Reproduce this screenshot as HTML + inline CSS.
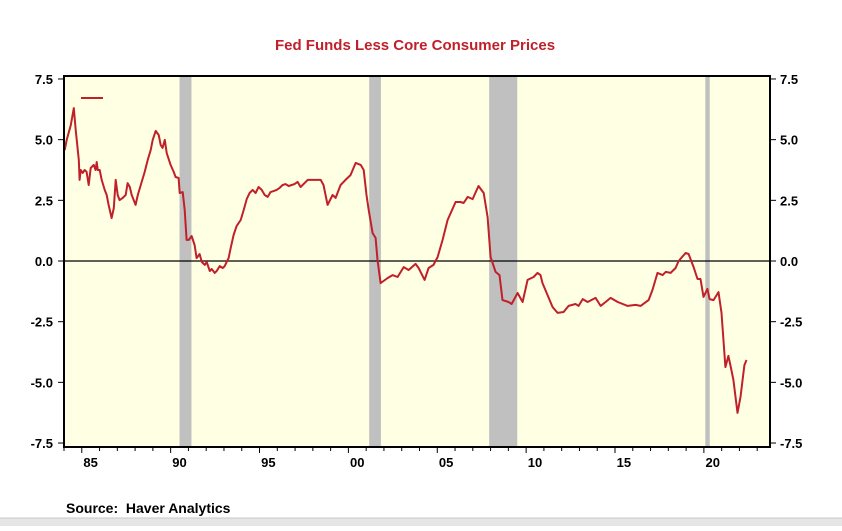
<!DOCTYPE html>
<html><head><meta charset="utf-8"><style>
body{margin:0;background:#fff;width:842px;height:526px;overflow:hidden;font-family:"Liberation Sans",Arial,sans-serif}
</style></head><body>
<svg id="c" width="842" height="526" xmlns="http://www.w3.org/2000/svg">
<text x="415" y="50" text-anchor="middle" font-size="15" font-weight="bold" fill="#c0202a">Fed Funds Less Core Consumer Prices</text>
<text x="66" y="513" font-size="14" font-weight="bold" fill="#000" style="white-space:pre">Source:&#160; Haver Analytics</text>
<rect x="0" y="518" width="842" height="8" fill="#e6e6e6"/>
<line x1="0" y1="518" x2="842" y2="518" stroke="#c8c8c8"/>
<g id="g"></g>
</svg>
<script>
const years=[1984.04,1984.15,1984.38,1984.55,1984.66,1984.83,1984.88,1984.94,1985.05,1985.16,1985.27,1985.39,1985.50,1985.67,1985.78,1985.84,1985.90,1986.01,1986.12,1986.29,1986.40,1986.51,1986.68,1986.80,1986.91,1987.02,1987.13,1987.30,1987.47,1987.58,1987.70,1987.81,1988.03,1988.15,1988.37,1988.54,1988.71,1988.88,1988.99,1989.16,1989.33,1989.44,1989.55,1989.67,1989.78,1990.00,1990.17,1990.28,1990.45,1990.51,1990.68,1990.79,1990.90,1991.02,1991.18,1991.35,1991.46,1991.63,1991.75,1991.92,1992.03,1992.20,1992.31,1992.48,1992.59,1992.76,1992.93,1993.04,1993.26,1993.38,1993.54,1993.71,1993.94,1994.11,1994.28,1994.44,1994.61,1994.78,1994.95,1995.12,1995.29,1995.46,1995.62,1995.79,1995.96,1996.13,1996.30,1996.47,1996.64,1996.81,1996.97,1997.14,1997.31,1997.71,1998.44,1998.60,1998.83,1999.11,1999.28,1999.56,1999.84,2000.12,2000.41,2000.69,2000.86,2001.02,2001.14,2001.36,2001.53,2001.64,2001.81,2002.21,2002.49,2002.77,2003.11,2003.39,2003.78,2003.95,2004.29,2004.51,2004.79,2005.02,2005.30,2005.58,2006.03,2006.31,2006.48,2006.71,2006.99,2007.32,2007.61,2007.83,2008.00,2008.28,2008.50,2008.67,2009.01,2009.18,2009.52,2009.80,2010.08,2010.42,2010.64,2010.81,2010.92,2011.20,2011.49,2011.77,2012.11,2012.39,2012.78,2012.95,2013.18,2013.46,2013.91,2014.19,2014.47,2014.75,2015.15,2015.71,2016.16,2016.44,2016.89,2017.11,2017.39,2017.68,2017.85,2018.13,2018.41,2018.58,2018.97,2019.14,2019.42,2019.64,2019.81,2019.98,2020.20,2020.32,2020.54,2020.82,2020.99,2021.21,2021.38,2021.55,2021.66,2021.89,2022.06,2022.28,2022.40];
const values=[4.57,4.99,5.60,6.30,5.40,4.16,3.34,3.75,3.63,3.75,3.67,3.13,3.83,3.96,3.75,4.08,3.75,3.75,3.34,2.93,2.72,2.31,1.77,2.18,3.34,2.72,2.51,2.60,2.72,3.21,3.05,2.72,2.31,2.72,3.26,3.67,4.16,4.57,4.99,5.36,5.19,4.78,4.66,4.99,4.45,3.96,3.67,3.46,3.42,2.80,2.84,2.10,0.87,0.87,1.03,0.66,0.12,0.29,-0.04,-0.16,-0.04,-0.41,-0.33,-0.49,-0.41,-0.21,-0.29,-0.21,0.12,0.54,1.07,1.44,1.69,2.10,2.55,2.80,2.93,2.80,3.05,2.93,2.72,2.64,2.84,2.88,2.93,3.01,3.13,3.17,3.09,3.13,3.17,3.26,3.05,3.34,3.34,3.13,2.31,2.72,2.60,3.13,3.34,3.54,4.04,3.96,3.75,2.72,2.10,1.15,0.95,0.04,-0.91,-0.70,-0.58,-0.66,-0.25,-0.37,-0.12,-0.29,-0.78,-0.29,-0.16,0.16,0.87,1.69,2.43,2.43,2.39,2.64,2.55,3.09,2.80,1.81,0.16,-0.45,-0.58,-1.61,-1.69,-1.77,-1.32,-1.69,-0.78,-0.66,-0.49,-0.58,-0.91,-1.40,-1.90,-2.14,-2.10,-1.85,-1.77,-1.85,-1.57,-1.69,-1.52,-1.85,-1.69,-1.52,-1.69,-1.85,-1.81,-1.85,-1.61,-1.19,-0.49,-0.58,-0.45,-0.49,-0.29,0.00,0.33,0.29,-0.25,-0.74,-0.74,-1.48,-1.15,-1.57,-1.61,-1.28,-2.14,-4.37,-3.91,-4.49,-4.90,-6.26,-5.60,-4.29,-4.08];
const recStart=[1990.5,2001.17,2007.92,2020.08];
const recEnd=[1991.17,2001.83,2009.5,2020.33];
const yTicks=[7.5,5.0,2.5,0.0,-2.5,-5.0,-7.5];
const yTickLabels=["7.5","5.0","2.5","0.0","-2.5","-5.0","-7.5"];
const xLabelYears=[1985,1990,1995,2000,2005,2010,2015,2020];
const xLabels=["85","90","95","00","05","10","15","20"];

const L=64,R=770,T=76,B=447,x0=1984,x1=2023.72;
const X=v=>L+(v-x0)/(x1-x0)*(R-L);
const Y=v=>261-v*24.27;
const ns="http://www.w3.org/2000/svg",g=document.getElementById('g');
function mk(t,a){const e=document.createElementNS(ns,t);for(const k in a)e.setAttribute(k,a[k]);g.appendChild(e);return e;}
let e=mk('rect',{x:L,y:T,width:R-L,height:B-T,fill:'#ffffe3'});


recStart.forEach((s,i)=>{const r=mk('rect',{x:X(s),y:T,width:Math.max(3,X(recEnd[i])-X(s)),height:B-T,fill:'#c0c0c0'});

});
e=mk('line',{x1:L,x2:R,y1:Y(0),y2:Y(0),stroke:'#000','stroke-width':1.2});


let d=years.map((yr,i)=>(i?'L':'M')+X(yr).toFixed(1)+','+Y(values[i]).toFixed(1)).join('');
e=mk('path',{d:d,fill:'none',stroke:'#c0202a','stroke-width':2,'stroke-linejoin':'round'});


e=mk('line',{x1:81,x2:103,y1:98,y2:98,stroke:'#c0202a','stroke-width':2});


e=mk('rect',{x:L,y:T,width:R-L,height:B-T,fill:'none',stroke:'#000','stroke-width':2});


yTicks.forEach((v,i)=>{
 mk('line',{x1:L-6,x2:L,y1:Y(v),y2:Y(v),stroke:'#000','stroke-width':1});
 mk('line',{x1:R,x2:R+6,y1:Y(v),y2:Y(v),stroke:'#000','stroke-width':1});
 let t=mk('text',{x:53,y:Y(v)+5,'text-anchor':'end','font-size':13,'font-weight':'bold'});t.textContent=yTickLabels[i];
 
 
 t=mk('text',{x:780,y:Y(v)+5,'font-size':13,'font-weight':'bold'});t.textContent=yTickLabels[i];
 
 
});
for(let yr=1984;yr<=2023;yr++){mk('line',{x1:X(yr),x2:X(yr),y1:B,y2:B+(yr%5==0?6:4),stroke:'#000','stroke-width':1});}
xLabelYears.forEach((yr,i)=>{const t=mk('text',{x:X(yr+0.5),y:B+20,'text-anchor':'middle','font-size':13,'font-weight':'bold'});t.textContent=xLabels[i];
 
 });
</script>
</body></html>
